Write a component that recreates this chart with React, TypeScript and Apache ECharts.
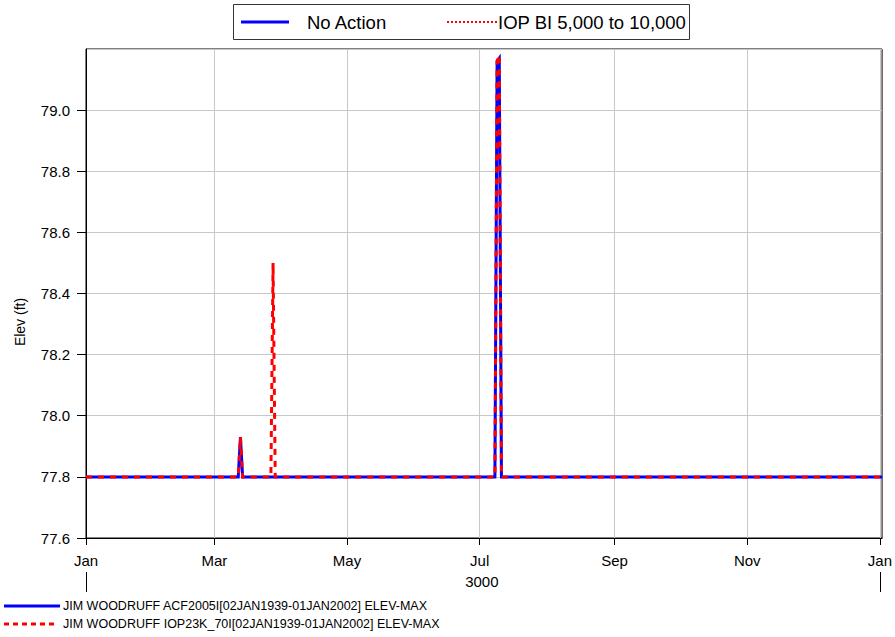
import React, { useEffect, useRef } from "react";
import * as echarts from "echarts";

const YEAR = 3000;
const DAY = 86400000;
const ORIGIN = Date.UTC(YEAR, 0, 1);
// day offset from Jan 1 of YEAR
const d = (m: number, day: number, y: number = YEAR) => (Date.UTC(y, m - 1, day) - ORIGIN) / DAY;

// Breakpoints of each series (flat at 77.8 between them)
const noActionDates = [d(1, 1), d(3, 12), d(3, 13), d(3, 14), d(7, 8), d(7, 9), d(7, 10), d(7, 11), d(1, 2, YEAR + 1)];
const noActionValues = [77.8, 77.8, 77.93, 77.8, 77.8, 79.16, 79.17, 77.8, 77.8];

const iopDates = [d(1, 1), d(3, 12), d(3, 13), d(3, 14), d(3, 27), d(3, 28), d(3, 29), d(7, 8), d(7, 9), d(7, 10), d(7, 11), d(1, 2, YEAR + 1)];
const iopValues = [77.8, 77.8, 77.93, 77.8, 77.8, 78.5, 77.8, 77.8, 79.16, 79.18, 77.8, 77.8];

const monthTicks = [d(1, 1), d(3, 1), d(5, 1), d(7, 1), d(9, 1), d(11, 1), d(1, 1, YEAR + 1)];
const monthLabels = ["Jan", "Mar", "May", "Jul", "Sep", "Nov", "Jan"];
const yearTicks = [d(1, 1), d(1, 1, YEAR + 1)];
const yearLabelPos = [d(7, 2)];
const yearLabel = "3000";

const seriesNames = ["No Action", "IOP BI 5,000 to 10,000"];
const bottomLegend = [
  "JIM WOODRUFF ACF2005I[02JAN1939-01JAN2002] ELEV-MAX",
  "JIM WOODRUFF IOP23K_70I[02JAN1939-01JAN2002] ELEV-MAX",
];
const yAxisName = "Elev (ft)";

const FONT = "Liberation Sans, Arial, sans-serif";

export default function App() {
  const ref = useRef<HTMLDivElement>(null);
  useEffect(() => {
    if (!ref.current) return;
    const chart = echarts.init(ref.current, null, { renderer: "svg" });
    const xMin = d(1, 1);
    const xMax = d(1, 2, YEAR + 1);
    chart.setOption({
      animation: false,
      backgroundColor: "#fff",
      textStyle: { fontFamily: FONT },
      grid: {
        left: 86,
        top: 49,
        width: 797,
        height: 489,
        show: true,
        borderColor: "#000",
        borderWidth: 1,
        backgroundColor: "transparent",
      },
      xAxis: [
        {
          type: "value",
          min: xMin,
          max: xMax,
          axisLine: { show: true, onZero: false, lineStyle: { color: "#000", width: 1 } },
          axisTick: { show: true, customValues: monthTicks, length: 7, lineStyle: { color: "#000" } },
          axisLabel: {
            customValues: monthTicks,
            formatter: (v: number) => {
              const i = monthTicks.findIndex((t) => Math.abs(t - v) < 0.5);
              return i >= 0 ? monthLabels[i] : "";
            },
            fontSize: 15,
            color: "#000",
            margin: 15,
            fontFamily: FONT,
          },
          splitLine: { show: true, lineStyle: { color: "#c8c8c8", width: 1 } },
        },
        {
          type: "value",
          min: xMin,
          max: xMax,
          position: "bottom",
          offset: 34,
          axisLine: { show: false, onZero: false },
          axisTick: { show: true, customValues: yearTicks, length: 20, lineStyle: { color: "#000" } },
          axisLabel: {
            customValues: yearLabelPos,
            formatter: () => yearLabel,
            fontSize: 15,
            color: "#000",
            margin: 2,
            fontFamily: FONT,
          },
          splitLine: { show: false },
        },
      ],
      yAxis: {
        type: "value",
        min: 77.6,
        max: 79.2,
        interval: 0.2,
        axisLine: { show: true, onZero: false, lineStyle: { color: "#000", width: 1 } },
        axisTick: { show: true, length: 9, lineStyle: { color: "#000" } },
        axisLabel: {
          formatter: (v: number) => v.toFixed(1),
          fontSize: 15,
          color: "#000",
          margin: 16,
          fontFamily: FONT,
          showMaxLabel: false,
        },
        splitLine: { show: true, lineStyle: { color: "#c8c8c8", width: 1 } },
      },
      series: [
        {
          name: seriesNames[0],
          type: "line",
          xAxisIndex: 0,
          showSymbol: false,
          symbol: "none",
          data: noActionDates.map((t, i) => [t, noActionValues[i]]),
          lineStyle: { color: "#0000ff", width: 3, join: "miter" },
          itemStyle: { color: "#0000ff" },
          z: 2,
        },
        {
          name: seriesNames[1],
          type: "line",
          xAxisIndex: 0,
          showSymbol: false,
          symbol: "none",
          data: iopDates.map((t, i) => [t, iopValues[i]]),
          lineStyle: { color: "#ff0000", width: 3, type: [6, 6], join: "miter" },
          itemStyle: { color: "#ff0000" },
          z: 3,
        },
      ],
      graphic: [
        {
          type: "text",
          x: 20,
          y: 322,
          rotation: Math.PI / 2,
          style: { text: yAxisName, fontSize: 14, fill: "#000", fontFamily: FONT, align: "center", verticalAlign: "middle" },
        },
        {
          type: "rect",
          shape: { x: 233.5, y: 4.5, width: 456, height: 35 },
          style: { fill: "#fff", stroke: "#333", lineWidth: 1 },
          z: 10,
        },
        {
          type: "line",
          shape: { x1: 241, y1: 22, x2: 289, y2: 22 },
          style: { stroke: "#0000ff", lineWidth: 3 },
          z: 11,
        },
        {
          type: "text",
          x: 307,
          y: 22,
          style: { text: seriesNames[0], fontSize: 18.5, fill: "#000", fontFamily: FONT, verticalAlign: "middle" },
          z: 11,
        },
        {
          type: "line",
          shape: { x1: 447, y1: 22, x2: 497, y2: 22 },
          style: { stroke: "#ff0000", lineWidth: 2, lineDash: [2, 2] },
          z: 11,
        },
        {
          type: "text",
          x: 498,
          y: 22,
          style: { text: seriesNames[1], fontSize: 18.5, fill: "#000", fontFamily: FONT, verticalAlign: "middle" },
          z: 11,
        },
        {
          type: "line",
          shape: { x1: 4, y1: 606, x2: 60, y2: 606 },
          style: { stroke: "#0000ff", lineWidth: 3 },
        },
        {
          type: "text",
          x: 63,
          y: 606,
          style: { text: bottomLegend[0], fontSize: 12.5, fill: "#000", fontFamily: FONT, verticalAlign: "middle" },
        },
        {
          type: "line",
          shape: { x1: 4, y1: 624, x2: 58, y2: 624 },
          style: { stroke: "#ff0000", lineWidth: 3, lineDash: [5, 4] },
        },
        {
          type: "text",
          x: 63,
          y: 624,
          style: { text: bottomLegend[1], fontSize: 12.5, fill: "#000", fontFamily: FONT, verticalAlign: "middle" },
        },
      ],
    });
    return () => chart.dispose();
  }, []);
  return <div ref={ref} style={{ width: 895, height: 637, position: "absolute", left: 0, top: 0 }} />;
}
